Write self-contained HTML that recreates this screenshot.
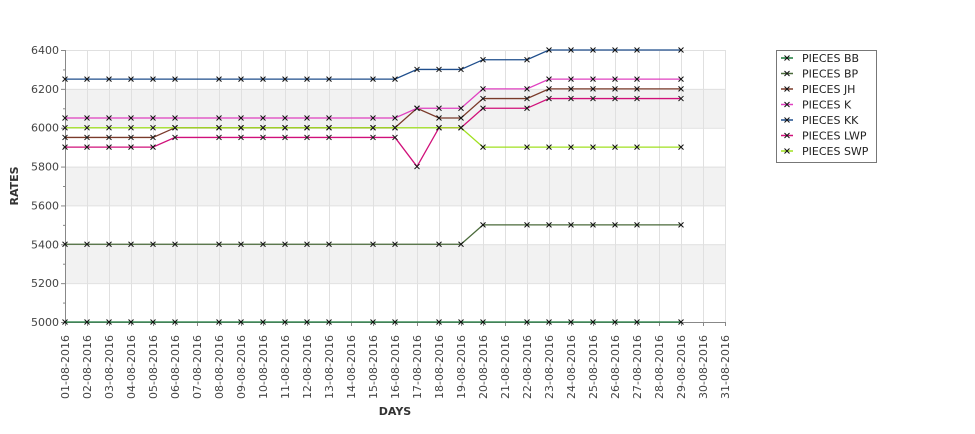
<!DOCTYPE html>
<html><head><meta charset="utf-8">
<style>
body{margin:0;background:#fff;}
svg text{font-family:"DejaVu Sans","Liberation Sans",sans-serif;}
</style></head>
<body>
<svg id="chart" width="975" height="429" xmlns="http://www.w3.org/2000/svg">
<g id="bands"></g><g id="grid"></g><g id="axes"></g><g id="series"></g>
<text x="18" y="186" transform="rotate(-90 18 186)" text-anchor="middle" font-size="11" font-weight="bold" fill="#333">RATES</text>
<text x="395" y="415" text-anchor="middle" font-size="11" font-weight="bold" fill="#333">DAYS</text>
<g id="legend"><rect x="776.5" y="50.5" width="100" height="112" fill="#fff" stroke="#777"/></g>
</svg>
<script>
const categories=[];for(let d=1;d<=31;d++)categories.push((d<10?'0':'')+d+'-08-2016');
const yTicks=[5000,5200,5400,5600,5800,6000,6200,6400];
const seriesNames=['PIECES BB','PIECES BP','PIECES JH','PIECES K','PIECES KK','PIECES LWP','PIECES SWP'];
const seriesColors=['#1a7a3a','#4a6a3a','#7a3a2a','#e040c0','#1f4e8c','#d0107a','#a0e020'];
// values per day index (1..31); null = no data
const BB  =[5000,5000,5000,5000,5000,5000,null,5000,5000,5000,5000,5000,5000,null,5000,5000,null,5000,5000,5000,null,5000,5000,5000,5000,5000,5000,null,5000,null,null];
const BP  =[5400,5400,5400,5400,5400,5400,null,5400,5400,5400,5400,5400,5400,null,5400,5400,null,5400,5400,5500,null,5500,5500,5500,5500,5500,5500,null,5500,null,null];
const JH  =[5950,5950,5950,5950,5950,6000,null,6000,6000,6000,6000,6000,6000,null,6000,6000,6100,6050,6050,6150,null,6150,6200,6200,6200,6200,6200,null,6200,null,null];
const K   =[6050,6050,6050,6050,6050,6050,null,6050,6050,6050,6050,6050,6050,null,6050,6050,6100,6100,6100,6200,null,6200,6250,6250,6250,6250,6250,null,6250,null,null];
const KK  =[6250,6250,6250,6250,6250,6250,null,6250,6250,6250,6250,6250,6250,null,6250,6250,6300,6300,6300,6350,null,6350,6400,6400,6400,6400,6400,null,6400,null,null];
const LWP =[5900,5900,5900,5900,5900,5950,null,5950,5950,5950,5950,5950,5950,null,5950,5950,5800,6000,6000,6100,null,6100,6150,6150,6150,6150,6150,null,6150,null,null];
const SWP =[6000,6000,6000,6000,6000,6000,null,6000,6000,6000,6000,6000,6000,null,6000,6000,null,6000,6000,5900,null,5900,5900,5900,5900,5900,5900,null,5900,null,null];
const seriesData=[BB,BP,JH,K,KK,LWP,SWP];

const X0=65,X1=725,Y0=322,Y1=50,YMIN=5000,YMAX=6400;
const xs=i=>X0+i*(X1-X0)/(categories.length-1);
const ys=v=>Y0-(v-YMIN)*(Y0-Y1)/(YMAX-YMIN);
const NS='http://www.w3.org/2000/svg';
function mk(tag,attrs,parent){const e=document.createElementNS(NS,tag);for(const k in attrs)e.setAttribute(k,attrs[k]);parent.appendChild(e);return e;}
const bands=document.getElementById('bands'),grid=document.getElementById('grid'),axes=document.getElementById('axes'),ser=document.getElementById('series'),leg=document.getElementById('legend');
for(let i=0;i<yTicks.length-1;i++){if(i%2===1){const r=mk('rect',{x:X0,y:ys(yTicks[i+1]),width:X1-X0,height:ys(yTicks[i])-ys(yTicks[i+1]),fill:'#f2f2f2'},bands);

}}
yTicks.forEach(v=>{const l=mk('line',{x1:X0,x2:X1,y1:ys(v)+.5,y2:ys(v)+.5,stroke:'#e0e0e0'},grid);


mk('line',{x1:X0-4,x2:X0,y1:ys(v)+.5,y2:ys(v)+.5,stroke:'#888'},axes);
const t=mk('text',{x:X0-6,y:ys(v)+4,'text-anchor':'end','font-size':'11',fill:'#444'},axes);t.textContent=v;

});
for(let v=YMIN+100;v<YMAX;v+=200)mk('line',{x1:X0-2,x2:X0,y1:ys(v)+.5,y2:ys(v)+.5,stroke:'#888'},axes);
categories.forEach((c,i)=>{const x=xs(i)+.5;if(i>0){const l=mk('line',{x1:x,x2:x,y1:Y1,y2:Y0,stroke:'#e0e0e0'},grid);

}
mk('line',{x1:x,x2:x,y1:Y0,y2:Y0+4,stroke:'#888'},axes);
const t=mk('text',{x:0,y:0,'text-anchor':'end','font-size':'11',fill:'#444',transform:`translate(${xs(i)+4},${Y0+13}) rotate(-90)`},axes);t.textContent=c;

});
mk('line',{x1:X0+.5,x2:X0+.5,y1:Y1,y2:Y0,stroke:'#888'},axes);
mk('line',{x1:X0,x2:X1,y1:Y0+.5,y2:Y0+.5,stroke:'#888'},axes);
function cross(x,y,p){mk('path',{d:`M${x-2.5},${y-2.5}L${x+2.5},${y+2.5}M${x-2.5},${y+2.5}L${x+2.5},${y-2.5}`,stroke:'#111','stroke-width':'1'},p);}
seriesData.forEach((arr,s)=>{const g=mk('g',{},ser);


const pts=[];arr.forEach((v,i)=>{if(v!=null)pts.push([xs(i),ys(v)]);});
mk('polyline',{points:pts.map(p=>p.join(',')).join(' '),fill:'none',stroke:seriesColors[s],'stroke-width':'1.3'},g);
pts.forEach(p=>cross(p[0],p[1],g));});
seriesNames.forEach((n,i)=>{const y=58+i*15.5;const g=mk('g',{},leg);


mk('line',{x1:781,x2:793,y1:y,y2:y,stroke:seriesColors[i],'stroke-width':'1.5'},g);cross(787,y,g);
const t=mk('text',{x:802,y:y+4,'font-size':'11',fill:'#222'},g);t.textContent=n;});
</script>
</body></html>
